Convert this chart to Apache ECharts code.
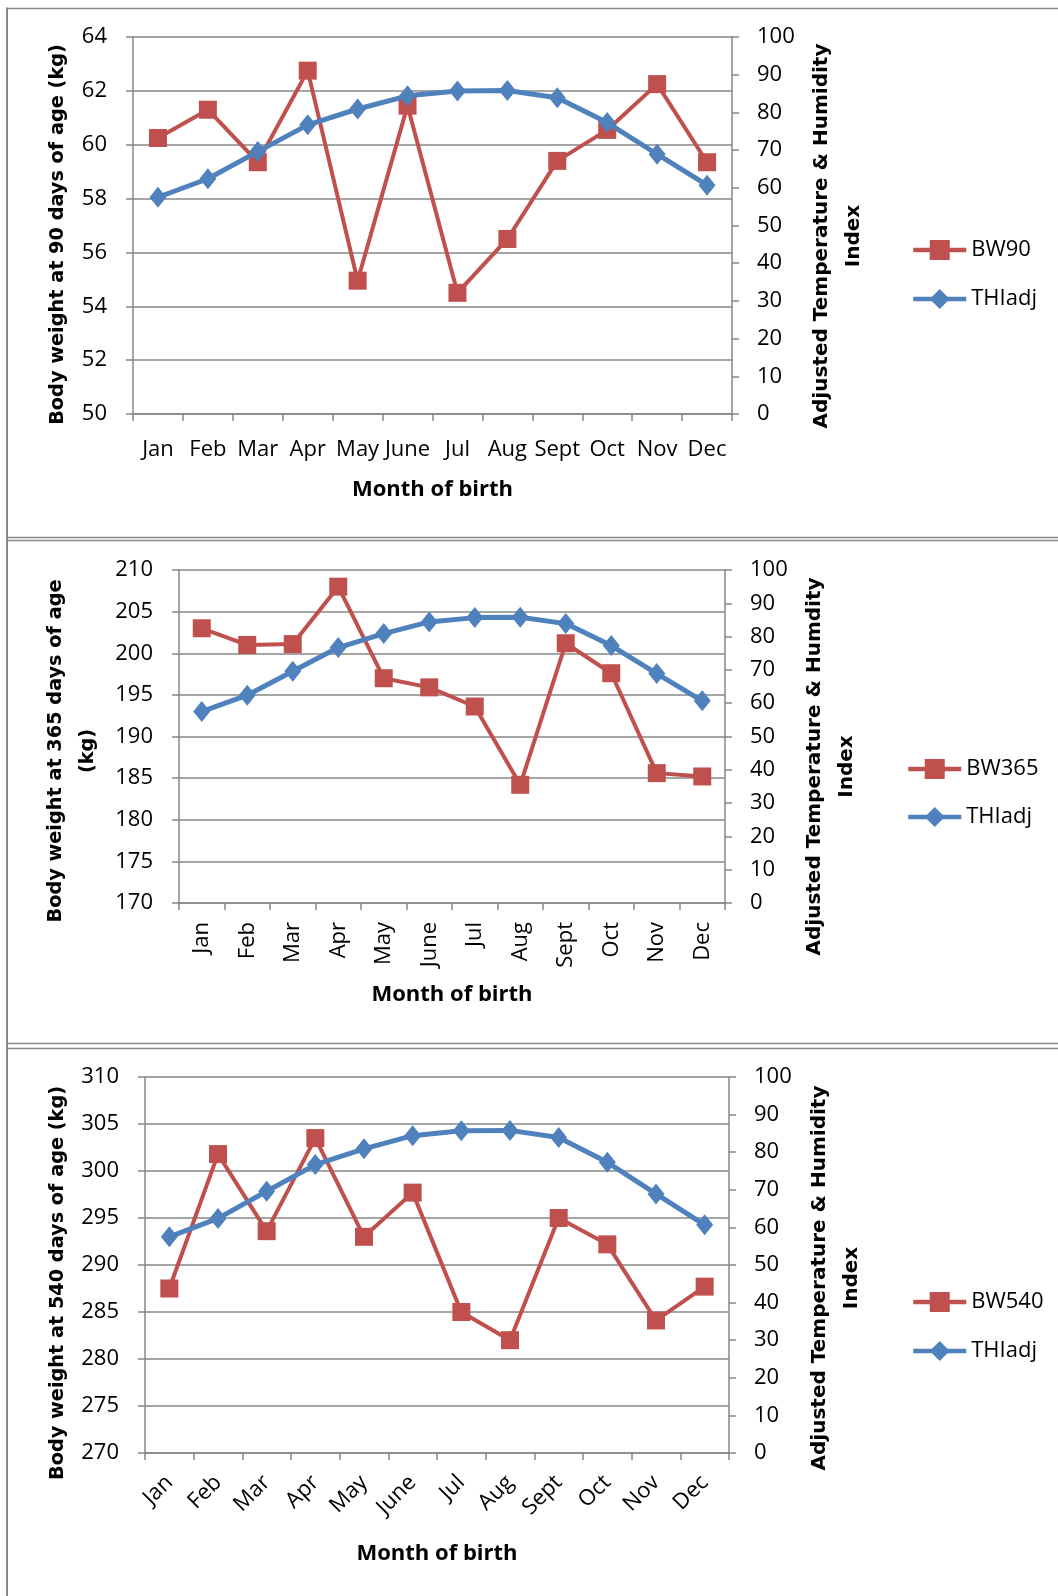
<!DOCTYPE html>
<html>
<head>
<meta charset="utf-8">
<script src="https://cdn.jsdelivr.net/npm/echarts@6/dist/echarts.min.js"></script>
<style>
html,body{margin:0;padding:0;background:#fff;}
#c{width:1058px;height:1596px;}
</style>
</head>
<body>
<div id="c"></div>
<script>
const months = ['Jan','Feb','Mar','Apr','May','June','Jul','Aug','Sept','Oct','Nov','Dec'];
const bw90 = [60.25, 61.3, 59.35, 62.75, 54.95, 61.45, 54.5, 56.5, 59.4, 60.55, 62.25, 59.35];
const bw365 = [203.0, 201.0, 201.1, 208.0, 197.0, 195.9, 193.6, 184.2, 201.2, 197.6, 185.6, 185.2];
const bw540 = [287.5, 301.8, 293.6, 303.5, 293.0, 297.7, 285.0, 282.0, 295.0, 292.2, 284.1, 287.7];
const thiAdj = [57.5, 62.4, 69.6, 76.7, 80.9, 84.4, 85.7, 85.8, 83.9, 77.3, 68.9, 60.7];

const leftTitles = ['Body weight at 90 days of age (kg)', 'Body weight at 365 days of age\n(kg)', 'Body weight at 540 days of age (kg)'];
const rightTitles = ['Adjusted Temperature & Humidity\nIndex', 'Adjusted Temperature & Humdity\nIndex', 'Adjusted Temperature & Humidity\nIndex'];
const xTitle = 'Month of birth';
const bwNames = ['BW90', 'BW365', 'BW540'];
const leftRanges = [[50, 64, 2], [170, 210, 5], [270, 310, 5]];
const rightRange = [0, 100, 10];

const RED = '#C0504D', BLUE = '#4F81BD', GRID = '#878787';
const LBL = '"Open Sans", Lato, sans-serif';
const TTL = '"DejaVu Sans", Verdana, sans-serif';

// layout per panel
const L = [
  {left:133, right:326, top:37, height:377, rot:0, lm:25, xg:65, lg:63, lpad:18, llh:24, rg:73, rpad:21, leg:[911,237.5,24]},
  {left:179, right:333, top:570, height:333, rot:90, lm:19, xg:81, lg:73, lpad:29, llh:32, rg:74, rpad:60, leg:[906,756.5,23]},
  {left:145, right:329, top:1077, height:376, rot:45, lm:26, xg:90, lg:75, lpad:36, llh:24, rg:75, rpad:26, leg:[911,1289.5,24]}
];
const bwData = [bw90, bw365, bw540];

const grid = [], xAxis = [], yAxis = [], series = [], legend = [];
L.forEach((p, i) => {
  grid.push({left:p.left, right:p.right, top:p.top, height:p.height, outerBoundsMode:'none', containLabel:false});
  xAxis.push({
    type:'category', gridIndex:i, data:months, boundaryGap:true,
    axisLine:{show:true, lineStyle:{color:GRID, width:1.5}},
    axisTick:{show:true, alignWithLabel:false, length:7, lineStyle:{color:GRID, width:1.5}},
    axisLabel:{interval:0, rotate:p.rot, margin:p.lm, fontFamily:LBL, fontSize:22, color:'#000'},
    name:xTitle, nameLocation:'middle', nameGap:p.xg,
    nameTextStyle:{fontFamily:LBL, fontWeight:'bold', fontSize:22, color:'#000'}
  });
  const r = leftRanges[i];
  yAxis.push({
    type:'value', gridIndex:i, position:'left', min:r[0], max:r[1], interval:r[2],
    axisLine:{show:true, lineStyle:{color:GRID, width:1.5}},
    axisTick:{show:true, length:7, lineStyle:{color:GRID, width:1.5}},
    splitLine:{show:true, lineStyle:{color:GRID, width:1.5}},
    axisLabel:{margin:26, fontFamily:LBL, fontSize:22, color:'#000', padding:[4,0,0,0]},
    name:leftTitles[i], nameLocation:'middle', nameGap:p.lg, nameRotate:90,
    nameTextStyle:{fontFamily:TTL, fontWeight:'bold', fontSize:19.3, color:'#000', lineHeight:p.llh, padding:[0,p.lpad,0,0]}
  });
  yAxis.push({
    type:'value', gridIndex:i, position:'right', min:rightRange[0], max:rightRange[1], interval:rightRange[2],
    axisLine:{show:true, lineStyle:{color:GRID, width:1.5}},
    axisTick:{show:true, length:7, lineStyle:{color:GRID, width:1.5}},
    splitLine:{show:false},
    axisLabel:{margin:25, fontFamily:LBL, fontSize:22, color:'#000', padding:[4,0,0,0]},
    name:rightTitles[i], nameLocation:'middle', nameGap:p.rg, nameRotate:90,
    nameTextStyle:{fontFamily:TTL, fontWeight:'bold', fontSize:20, color:'#000', lineHeight:32, padding:[0,p.rpad,0,0]}
  });
  series.push({
    name:bwNames[i], type:'line', xAxisIndex:i, yAxisIndex:2*i, data:bwData[i],
    symbol:'rect', symbolSize:18, showAllSymbol:true,
    lineStyle:{color:RED, width:4}, itemStyle:{color:RED}, z:2, animation:false
  });
  series.push({
    name:'THIadj', type:'line', xAxisIndex:i, yAxisIndex:2*i+1, data:thiAdj,
    symbol:'diamond', symbolSize:[17,21], showAllSymbol:true,
    lineStyle:{color:BLUE, width:5}, itemStyle:{color:BLUE}, z:3, animation:false
  });
  legend.push({
    orient:'vertical', left:p.leg[0], top:p.leg[1], itemGap:p.leg[2], padding:0,
    itemWidth:53, itemHeight:25,
    lineStyle:{width:4.5},
    data:[
      {name:bwNames[i], lineStyle:{width:4.5, color:RED}},
      {name:'THIadj', lineStyle:{width:4.5, color:BLUE}}
    ],
    textStyle:{fontFamily:LBL, fontSize:22, color:'#000', lineHeight:25},
    selectedMode:false
  });
});

const lines = [
  {type:'line', shape:{x1:7, y1:7.5, x2:7, y2:1596}, style:{stroke:GRID, lineWidth:2}},
  {type:'line', shape:{x1:6, y1:8.5, x2:1058, y2:8.5}, style:{stroke:GRID, lineWidth:1.5}},
  {type:'line', shape:{x1:6, y1:537.5, x2:1058, y2:537.5}, style:{stroke:GRID, lineWidth:1.5}},
  {type:'line', shape:{x1:6, y1:540.5, x2:1058, y2:540.5}, style:{stroke:GRID, lineWidth:1.5}},
  {type:'line', shape:{x1:6, y1:1043.5, x2:1058, y2:1043.5}, style:{stroke:GRID, lineWidth:1.5}},
  {type:'line', shape:{x1:6, y1:1048.5, x2:1058, y2:1048.5}, style:{stroke:GRID, lineWidth:1.5}}
];

const chart = echarts.init(document.getElementById('c'), null, {renderer:'canvas'});
chart.setOption({
  animation:false,
  backgroundColor:'#fff',
  grid, xAxis, yAxis, series, legend,
  graphic:{elements:lines}
});
</script>
</body>
</html>
